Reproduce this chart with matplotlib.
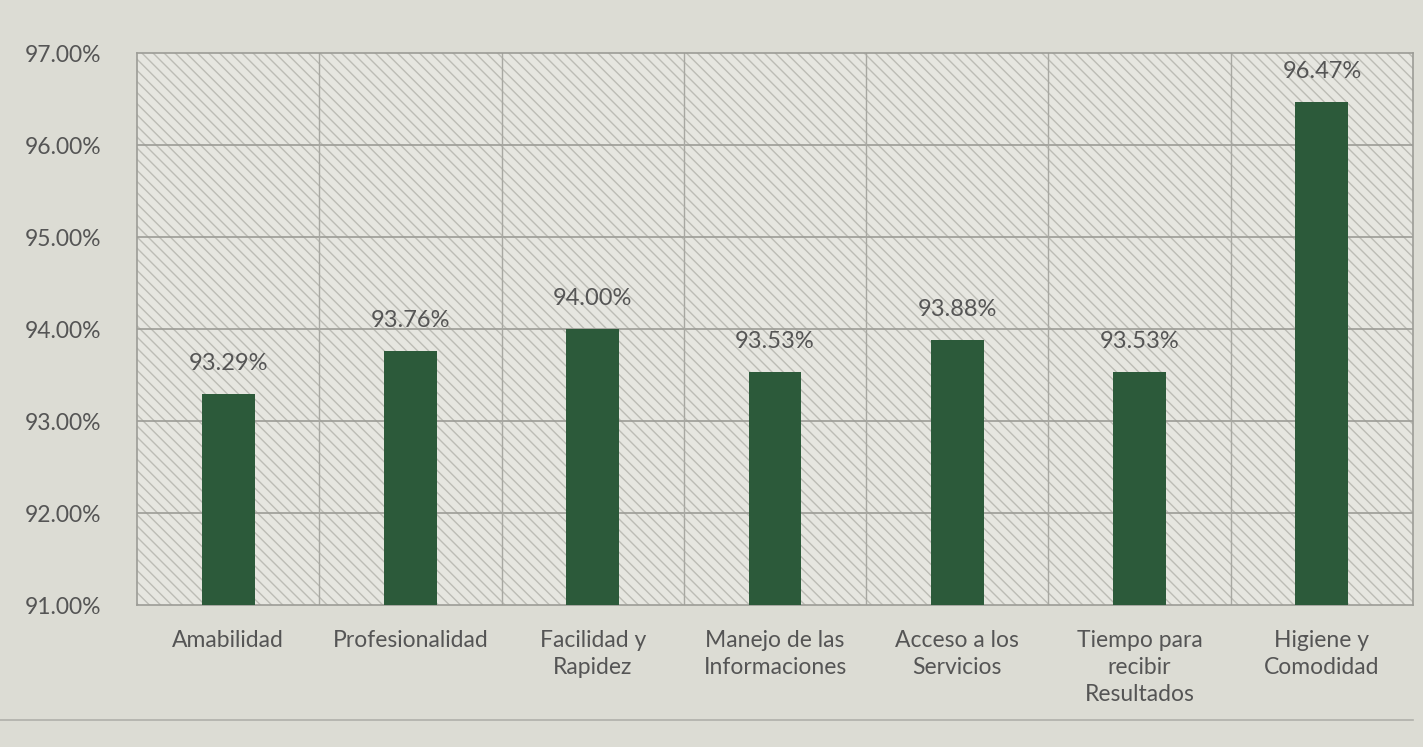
import matplotlib
matplotlib.use("Agg")
import matplotlib.pyplot as plt
from matplotlib.patches import Rectangle
from matplotlib.ticker import FuncFormatter, MultipleLocator

categorias = ["Amabilidad", "Profesionalidad", "Facilidad y\nRapidez",
              "Manejo de las\nInformaciones", "Acceso a los\nServicios",
              "Tiempo para\nrecibir\nResultados", "Higiene y\nComodidad"]
valores = [93.29, 93.76, 94.00, 93.53, 93.88, 93.53, 96.47]
etiquetas = ["93.29%", "93.76%", "94.00%", "93.53%", "93.88%", "93.53%", "96.47%"]

plt.rcParams['font.family'] = ['Lato', 'DejaVu Sans']
plt.rcParams['hatch.linewidth'] = 1.0

fondo = '#dcdcd4'
verde = '#2c5a3a'
gris = '#555555'

fig = plt.figure(figsize=(14.23, 7.47), dpi=100, facecolor=fondo)
ax = fig.add_axes([0.0963, 0.19, 0.8967, 0.739])
ax.set_facecolor('#e6e6e0')

# fondo rayado del area de trazado
ax.add_patch(Rectangle((0, 0), 1, 1, transform=ax.transAxes, facecolor='#e6e6e0',
                       edgecolor='#bcbcb5', linewidth=0, hatch='\\\\\\', zorder=0))

x = range(len(categorias))
ax.bar(x, [v - 91 for v in valores], bottom=91, width=0.29, color=verde, zorder=3)
for i, v in enumerate(valores):
    ax.text(i, v + 0.22, etiquetas[i], ha='center', va='bottom', fontsize=17, color=gris, zorder=4)

ax.set_xlim(-0.5, len(categorias) - 0.5)
ax.set_ylim(91, 97)
ax.yaxis.set_major_locator(MultipleLocator(1))
ax.yaxis.set_major_formatter(FuncFormatter(lambda v, p: f"{v:.2f}%"))
ax.set_xticks(list(x))
ax.set_xticklabels(categorias, fontsize=16.5, color=gris, linespacing=1.35, va='top')
ax.tick_params(axis='y', labelsize=16.5, labelcolor=gris, length=0, pad=26)
ax.tick_params(axis='x', length=0, pad=18)

# cuadricula: horizontales en cada 1% y verticales entre categorias
for y in range(92, 97):
    ax.axhline(y, color='#9c9c96', lw=1.2, zorder=1)
for b in range(1, len(categorias)):
    ax.axvline(b - 0.5, color='#a8a8a2', lw=1.0, zorder=1)

for s in ax.spines.values():
    s.set_color('#9c9c96')
    s.set_linewidth(1.2)

fig.add_artist(plt.Line2D([0.0, 0.993], [0.036, 0.036], color='#b0b0aa', lw=1.2))

fig.savefig("out.png", dpi=100, facecolor=fondo)
